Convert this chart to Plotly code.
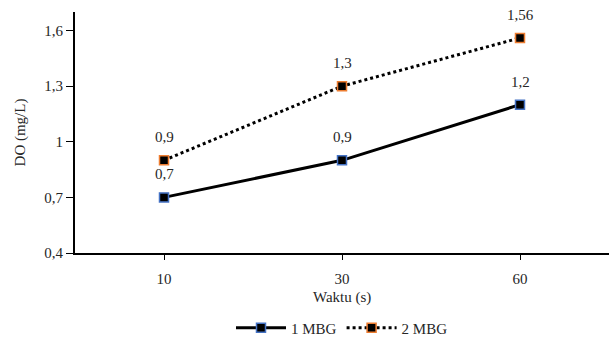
import plotly.graph_objects as go

categories = ["10", "30", "60"]
mbg1 = [0.7, 0.9, 1.2]
mbg2 = [0.9, 1.3, 1.56]
labels1 = ["0,7", "0,9", "1,2"]
labels2 = ["0,9", "1,3", "1,56"]
y_ticks = [0.4, 0.7, 1.0, 1.3, 1.6]
y_tick_text = ["0,4", "0,7", "1", "1,3", "1,6"]

font_family = "Liberation Serif"
text_color = "#262626"

fig = go.Figure()
fig.add_trace(go.Scatter(
    x=categories, y=mbg1, name="1 MBG", mode="lines+markers",
    line=dict(color="black", width=3),
    marker=dict(symbol="square", size=9, color="black", line=dict(color="#4472C4", width=1.5)),
))
fig.add_trace(go.Scatter(
    x=categories, y=mbg2, name="2 MBG", mode="lines+markers",
    line=dict(color="black", width=3, dash="dot"),
    marker=dict(symbol="square", size=9, color="black", line=dict(color="#ED7D31", width=1.5)),
))

# data labels (category axis: annotations positioned by category index)
for ys, ls in [(mbg1, labels1), (mbg2, labels2)]:
    for i, (yv, lv) in enumerate(zip(ys, ls)):
        fig.add_annotation(x=i, y=yv, text=lv, showarrow=False, yshift=23,
                           yanchor="middle", font=dict(family=font_family, size=15, color=text_color))

fig.add_annotation(text="Waktu (s)", xref="paper", yref="paper", x=0.5,
                   y=(253 - 297) / 241, yanchor="middle", showarrow=False,
                   font=dict(family=font_family, size=15, color=text_color))

fig.update_layout(
    width=616, height=343,
    margin=dict(l=75, r=7, t=12, b=90),
    paper_bgcolor="white", plot_bgcolor="white",
    font=dict(family=font_family, size=15, color=text_color),
    showlegend=True,
    legend=dict(orientation="h", x=0.5, xanchor="center", yref="container",
                y=(343 - 328) / 343, yanchor="middle",
                font=dict(size=15), itemwidth=50),
    xaxis=dict(
        type="category", range=[-0.5, 2.5], automargin=False,
        showline=True, linecolor="black", linewidth=2,
        ticks="outside", ticklen=5, tickcolor="black", tickwidth=1,
        ticklabelstandoff=6,
        showgrid=False, zeroline=False, tickfont=dict(size=15),
    ),
    yaxis=dict(
        range=[0.4, 1.7], tickvals=y_ticks, ticktext=y_tick_text, automargin=False,
        title=dict(text="DO (mg/L)", font=dict(size=15)),
        showline=True, linecolor="black", linewidth=2,
        ticks="outside", ticklen=7, tickcolor="black", tickwidth=1,
        showgrid=False, zeroline=False, tickfont=dict(size=15),
    ),
)

fig.write_html("out.html")
